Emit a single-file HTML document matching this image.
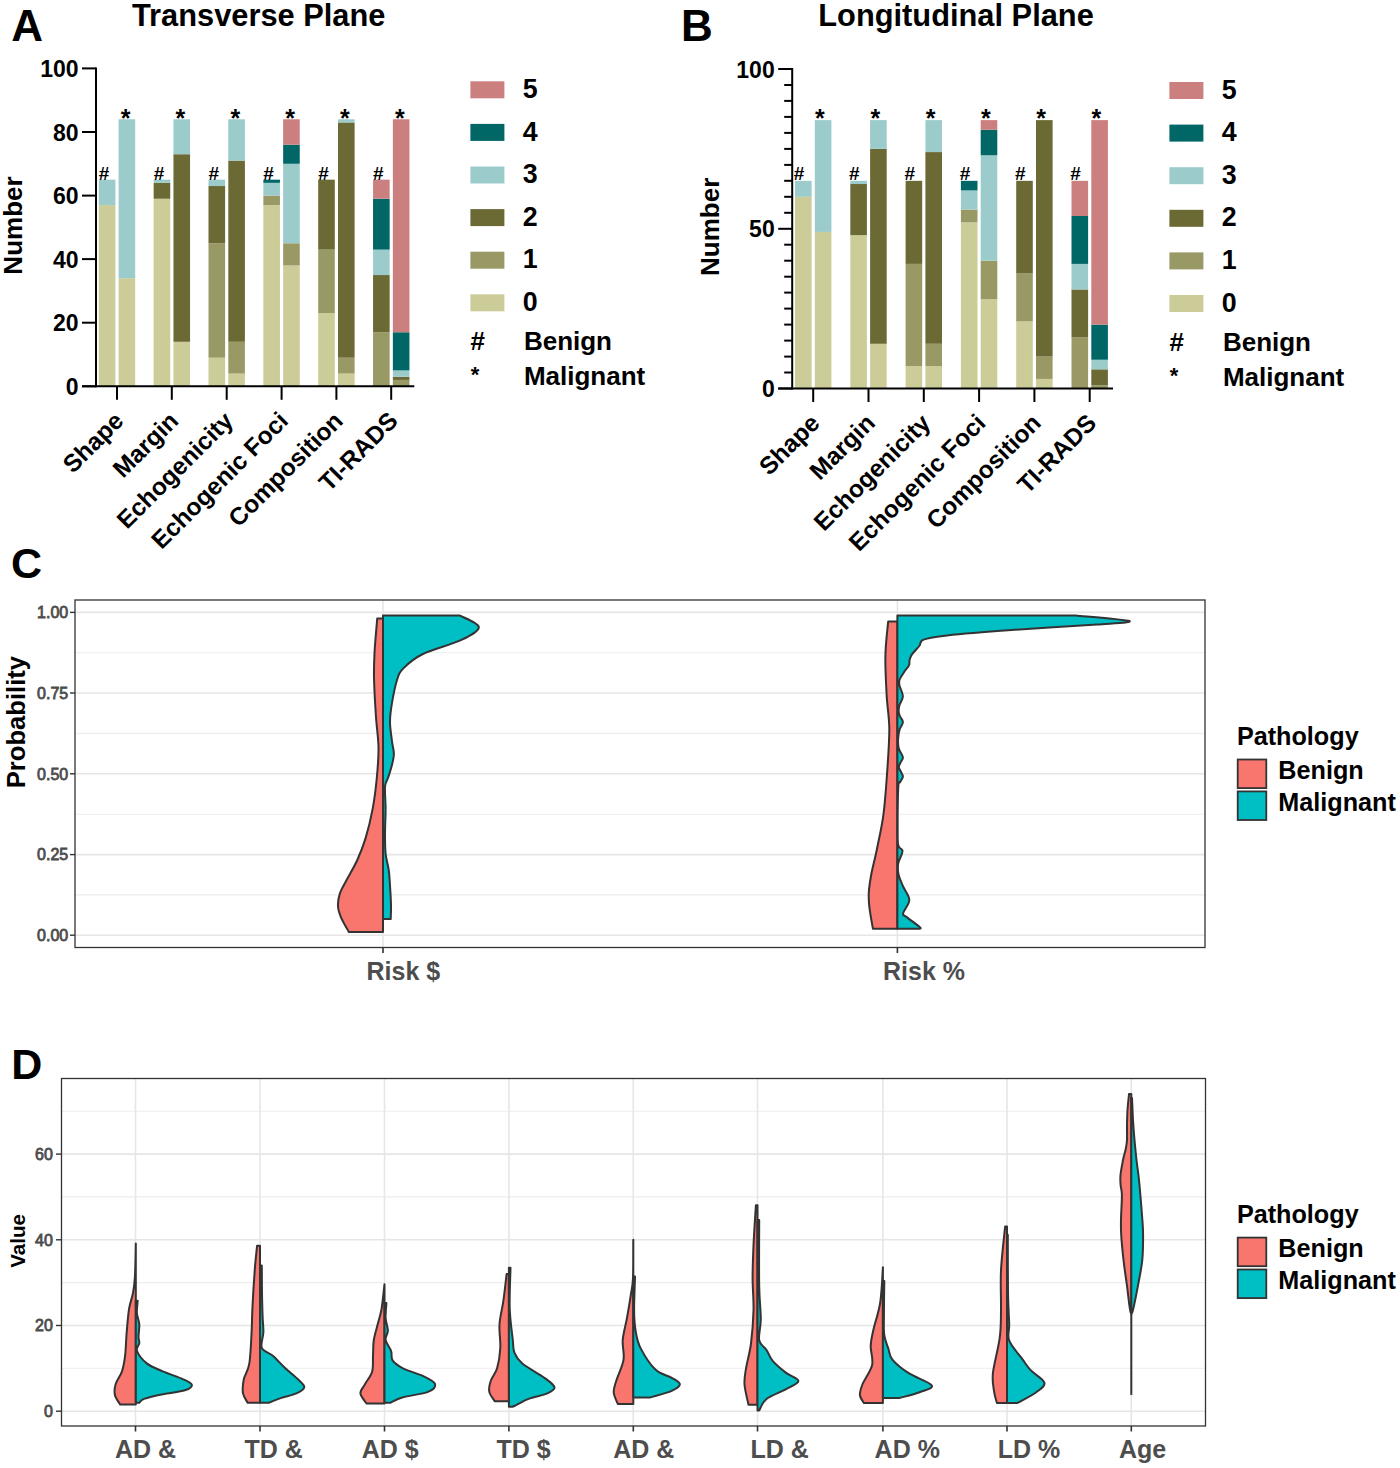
<!DOCTYPE html>
<html><head><meta charset="utf-8"><style>
html,body{margin:0;padding:0;background:#fff;}
svg{display:block;font-family:"Liberation Sans", sans-serif;}
</style></head><body>
<svg width="1400" height="1468" viewBox="0 0 1400 1468">
<rect width="1400" height="1468" fill="#fff"/>
<text x="11.2" y="40.7" font-size="44" text-anchor="start" fill="#000" font-weight="bold" >A</text>
<text x="132.0" y="25.5" font-size="30.8" text-anchor="start" fill="#000" font-weight="bold" >Transverse Plane</text>
<text x="0" y="0" font-size="26" font-weight="bold" text-anchor="middle" transform="translate(22.3,225.5) rotate(-90)">Number</text>
<rect x="98.80" y="205.10" width="16.60" height="181.20" fill="#cccc99" />
<rect x="98.80" y="179.67" width="16.60" height="25.43" fill="#9ccbcb" />
<rect x="118.60" y="278.21" width="16.60" height="108.09" fill="#cccc99" />
<rect x="118.60" y="119.26" width="16.60" height="158.95" fill="#9ccbcb" />
<text x="98.8" y="180.0" font-size="19" text-anchor="start" fill="#000" font-weight="bold" >#</text>
<text x="120.7" y="126.7" font-size="25" text-anchor="start" fill="#000" font-weight="bold" >*</text>
<rect x="153.65" y="198.74" width="16.60" height="187.56" fill="#cccc99" />
<rect x="153.65" y="182.84" width="16.60" height="15.90" fill="#6b6a35" />
<rect x="153.65" y="179.67" width="16.60" height="3.18" fill="#9ccbcb" />
<rect x="173.45" y="341.79" width="16.60" height="44.51" fill="#cccc99" />
<rect x="173.45" y="154.23" width="16.60" height="187.56" fill="#6b6a35" />
<rect x="173.45" y="119.26" width="16.60" height="34.97" fill="#9ccbcb" />
<text x="153.7" y="180.0" font-size="19" text-anchor="start" fill="#000" font-weight="bold" >#</text>
<text x="175.6" y="126.7" font-size="25" text-anchor="start" fill="#000" font-weight="bold" >*</text>
<rect x="208.50" y="357.69" width="16.60" height="28.61" fill="#cccc99" />
<rect x="208.50" y="243.25" width="16.60" height="114.44" fill="#999966" />
<rect x="208.50" y="186.02" width="16.60" height="57.22" fill="#6b6a35" />
<rect x="208.50" y="179.67" width="16.60" height="6.36" fill="#9ccbcb" />
<rect x="228.30" y="373.58" width="16.60" height="12.72" fill="#cccc99" />
<rect x="228.30" y="341.79" width="16.60" height="31.79" fill="#999966" />
<rect x="228.30" y="160.59" width="16.60" height="181.20" fill="#6b6a35" />
<rect x="228.30" y="119.26" width="16.60" height="41.33" fill="#9ccbcb" />
<text x="208.5" y="180.0" font-size="19" text-anchor="start" fill="#000" font-weight="bold" >#</text>
<text x="230.4" y="126.7" font-size="25" text-anchor="start" fill="#000" font-weight="bold" >*</text>
<rect x="263.35" y="205.10" width="16.60" height="181.20" fill="#cccc99" />
<rect x="263.35" y="195.56" width="16.60" height="9.54" fill="#999966" />
<rect x="263.35" y="182.84" width="16.60" height="12.72" fill="#9ccbcb" />
<rect x="263.35" y="179.67" width="16.60" height="3.18" fill="#006666" />
<rect x="283.15" y="265.50" width="16.60" height="120.80" fill="#cccc99" />
<rect x="283.15" y="243.25" width="16.60" height="22.25" fill="#999966" />
<rect x="283.15" y="163.77" width="16.60" height="79.48" fill="#9ccbcb" />
<rect x="283.15" y="144.70" width="16.60" height="19.07" fill="#006666" />
<rect x="283.15" y="119.26" width="16.60" height="25.43" fill="#cc7f7f" />
<text x="263.3" y="180.0" font-size="19" text-anchor="start" fill="#000" font-weight="bold" >#</text>
<text x="285.3" y="126.7" font-size="25" text-anchor="start" fill="#000" font-weight="bold" >*</text>
<rect x="318.20" y="313.18" width="16.60" height="73.12" fill="#cccc99" />
<rect x="318.20" y="249.60" width="16.60" height="63.58" fill="#999966" />
<rect x="318.20" y="179.67" width="16.60" height="69.94" fill="#6b6a35" />
<rect x="338.00" y="373.58" width="16.60" height="12.72" fill="#cccc99" />
<rect x="338.00" y="357.69" width="16.60" height="15.89" fill="#999966" />
<rect x="338.00" y="122.44" width="16.60" height="235.25" fill="#6b6a35" />
<rect x="338.00" y="119.26" width="16.60" height="3.18" fill="#9ccbcb" />
<text x="318.2" y="180.0" font-size="19" text-anchor="start" fill="#000" font-weight="bold" >#</text>
<text x="340.1" y="126.7" font-size="25" text-anchor="start" fill="#000" font-weight="bold" >*</text>
<rect x="373.05" y="332.26" width="16.60" height="54.04" fill="#999966" />
<rect x="373.05" y="275.04" width="16.60" height="57.22" fill="#6b6a35" />
<rect x="373.05" y="249.60" width="16.60" height="25.43" fill="#9ccbcb" />
<rect x="373.05" y="198.74" width="16.60" height="50.86" fill="#006666" />
<rect x="373.05" y="179.67" width="16.60" height="19.07" fill="#cc7f7f" />
<rect x="392.85" y="379.94" width="16.60" height="6.36" fill="#999966" />
<rect x="392.85" y="376.76" width="16.60" height="3.18" fill="#6b6a35" />
<rect x="392.85" y="370.41" width="16.60" height="6.36" fill="#9ccbcb" />
<rect x="392.85" y="332.26" width="16.60" height="38.15" fill="#006666" />
<rect x="392.85" y="119.26" width="16.60" height="212.99" fill="#cc7f7f" />
<text x="373.0" y="180.0" font-size="19" text-anchor="start" fill="#000" font-weight="bold" >#</text>
<text x="395.0" y="126.7" font-size="25" text-anchor="start" fill="#000" font-weight="bold" >*</text>
<line x1="96.0" y1="67.4" x2="96.0" y2="387.3" stroke="#000" stroke-width="2"/>
<line x1="82.0" y1="386.3" x2="414.3" y2="386.3" stroke="#000" stroke-width="2"/>
<line x1="82.0" y1="386.3" x2="96.0" y2="386.3" stroke="#000" stroke-width="2"/>
<text x="78.5" y="394.8" font-size="23" text-anchor="end" fill="#000" font-weight="bold" >0</text>
<line x1="82.0" y1="322.7" x2="96.0" y2="322.7" stroke="#000" stroke-width="2"/>
<text x="78.5" y="331.2" font-size="23" text-anchor="end" fill="#000" font-weight="bold" >20</text>
<line x1="82.0" y1="259.1" x2="96.0" y2="259.1" stroke="#000" stroke-width="2"/>
<text x="78.5" y="267.6" font-size="23" text-anchor="end" fill="#000" font-weight="bold" >40</text>
<line x1="82.0" y1="195.6" x2="96.0" y2="195.6" stroke="#000" stroke-width="2"/>
<text x="78.5" y="204.1" font-size="23" text-anchor="end" fill="#000" font-weight="bold" >60</text>
<line x1="82.0" y1="132.0" x2="96.0" y2="132.0" stroke="#000" stroke-width="2"/>
<text x="78.5" y="140.5" font-size="23" text-anchor="end" fill="#000" font-weight="bold" >80</text>
<line x1="82.0" y1="68.4" x2="96.0" y2="68.4" stroke="#000" stroke-width="2"/>
<text x="78.5" y="76.9" font-size="23" text-anchor="end" fill="#000" font-weight="bold" >100</text>
<line x1="117.0" y1="386.3" x2="117.0" y2="399.8" stroke="#000" stroke-width="2"/>
<line x1="171.8" y1="386.3" x2="171.8" y2="399.8" stroke="#000" stroke-width="2"/>
<line x1="226.7" y1="386.3" x2="226.7" y2="399.8" stroke="#000" stroke-width="2"/>
<line x1="281.6" y1="386.3" x2="281.6" y2="399.8" stroke="#000" stroke-width="2"/>
<line x1="336.4" y1="386.3" x2="336.4" y2="399.8" stroke="#000" stroke-width="2"/>
<line x1="391.2" y1="386.3" x2="391.2" y2="399.8" stroke="#000" stroke-width="2"/>
<text x="0" y="0" font-size="24.5" font-weight="bold" text-anchor="end" transform="translate(125.0,422.3) rotate(-45)">Shape</text>
<text x="0" y="0" font-size="24.5" font-weight="bold" text-anchor="end" transform="translate(179.8,422.3) rotate(-45)">Margin</text>
<text x="0" y="0" font-size="24.5" font-weight="bold" text-anchor="end" transform="translate(234.7,422.3) rotate(-45)">Echogenicity</text>
<text x="0" y="0" font-size="24.5" font-weight="bold" text-anchor="end" transform="translate(289.6,422.3) rotate(-45)">Echogenic Foci</text>
<text x="0" y="0" font-size="24.5" font-weight="bold" text-anchor="end" transform="translate(344.4,422.3) rotate(-45)">Composition</text>
<text x="0" y="0" font-size="24.5" font-weight="bold" text-anchor="end" transform="translate(399.2,422.3) rotate(-45)">TI-RADS</text>
<rect x="470.40" y="81.30" width="34.00" height="17.00" fill="#cc7f7f" />
<text x="522.7" y="97.9" font-size="26.8" text-anchor="start" fill="#000" font-weight="bold" >5</text>
<rect x="470.40" y="123.90" width="34.00" height="17.00" fill="#006666" />
<text x="522.7" y="140.5" font-size="26.8" text-anchor="start" fill="#000" font-weight="bold" >4</text>
<rect x="470.40" y="166.50" width="34.00" height="17.00" fill="#9ccbcb" />
<text x="522.7" y="183.1" font-size="26.8" text-anchor="start" fill="#000" font-weight="bold" >3</text>
<rect x="470.40" y="209.10" width="34.00" height="17.00" fill="#6b6a35" />
<text x="522.7" y="225.7" font-size="26.8" text-anchor="start" fill="#000" font-weight="bold" >2</text>
<rect x="470.40" y="251.70" width="34.00" height="17.00" fill="#999966" />
<text x="522.7" y="268.3" font-size="26.8" text-anchor="start" fill="#000" font-weight="bold" >1</text>
<rect x="470.40" y="294.30" width="34.00" height="17.00" fill="#cccc99" />
<text x="522.7" y="310.9" font-size="26.8" text-anchor="start" fill="#000" font-weight="bold" >0</text>
<text x="470.4" y="349.9" font-size="26" text-anchor="start" fill="#000" font-weight="bold" >#</text>
<text x="523.9" y="349.9" font-size="26" text-anchor="start" fill="#000" font-weight="bold" >Benign</text>
<text x="470.7" y="382.2" font-size="22" text-anchor="start" fill="#000" font-weight="bold" >*</text>
<text x="523.9" y="385.0" font-size="26" text-anchor="start" fill="#000" font-weight="bold" >Malignant</text>
<text x="681.1" y="40.7" font-size="44" text-anchor="start" fill="#000" font-weight="bold" >B</text>
<text x="818.3" y="25.5" font-size="30.8" text-anchor="start" fill="#000" font-weight="bold" >Longitudinal Plane</text>
<text x="0" y="0" font-size="26" font-weight="bold" text-anchor="middle" transform="translate(718.6,226.8) rotate(-90)">Number</text>
<rect x="795.00" y="196.80" width="16.60" height="191.70" fill="#cccc99" />
<rect x="795.00" y="180.83" width="16.60" height="15.97" fill="#9ccbcb" />
<rect x="814.80" y="231.95" width="16.60" height="156.55" fill="#cccc99" />
<rect x="814.80" y="120.12" width="16.60" height="111.83" fill="#9ccbcb" />
<text x="793.8" y="179.6" font-size="19" text-anchor="start" fill="#000" font-weight="bold" >#</text>
<text x="815.1" y="126.7" font-size="25" text-anchor="start" fill="#000" font-weight="bold" >*</text>
<rect x="850.30" y="235.14" width="16.60" height="153.36" fill="#cccc99" />
<rect x="850.30" y="184.02" width="16.60" height="51.12" fill="#6b6a35" />
<rect x="850.30" y="180.83" width="16.60" height="3.19" fill="#9ccbcb" />
<rect x="870.10" y="343.77" width="16.60" height="44.73" fill="#cccc99" />
<rect x="870.10" y="148.88" width="16.60" height="194.89" fill="#6b6a35" />
<rect x="870.10" y="120.12" width="16.60" height="28.75" fill="#9ccbcb" />
<text x="849.1" y="179.6" font-size="19" text-anchor="start" fill="#000" font-weight="bold" >#</text>
<text x="870.4" y="126.7" font-size="25" text-anchor="start" fill="#000" font-weight="bold" >*</text>
<rect x="905.60" y="366.13" width="16.60" height="22.37" fill="#cccc99" />
<rect x="905.60" y="263.89" width="16.60" height="102.24" fill="#999966" />
<rect x="905.60" y="180.83" width="16.60" height="83.07" fill="#6b6a35" />
<rect x="925.40" y="366.13" width="16.60" height="22.37" fill="#cccc99" />
<rect x="925.40" y="343.77" width="16.60" height="22.37" fill="#999966" />
<rect x="925.40" y="152.07" width="16.60" height="191.70" fill="#6b6a35" />
<rect x="925.40" y="120.12" width="16.60" height="31.95" fill="#9ccbcb" />
<text x="904.4" y="179.6" font-size="19" text-anchor="start" fill="#000" font-weight="bold" >#</text>
<text x="925.7" y="126.7" font-size="25" text-anchor="start" fill="#000" font-weight="bold" >*</text>
<rect x="960.90" y="222.36" width="16.60" height="166.14" fill="#cccc99" />
<rect x="960.90" y="209.58" width="16.60" height="12.78" fill="#999966" />
<rect x="960.90" y="190.41" width="16.60" height="19.17" fill="#9ccbcb" />
<rect x="960.90" y="180.83" width="16.60" height="9.58" fill="#006666" />
<rect x="980.70" y="299.04" width="16.60" height="89.46" fill="#cccc99" />
<rect x="980.70" y="260.70" width="16.60" height="38.34" fill="#999966" />
<rect x="980.70" y="155.27" width="16.60" height="105.43" fill="#9ccbcb" />
<rect x="980.70" y="129.71" width="16.60" height="25.56" fill="#006666" />
<rect x="980.70" y="120.12" width="16.60" height="9.59" fill="#cc7f7f" />
<text x="959.7" y="179.6" font-size="19" text-anchor="start" fill="#000" font-weight="bold" >#</text>
<text x="981.0" y="126.7" font-size="25" text-anchor="start" fill="#000" font-weight="bold" >*</text>
<rect x="1016.20" y="321.40" width="16.60" height="67.10" fill="#cccc99" />
<rect x="1016.20" y="273.48" width="16.60" height="47.92" fill="#999966" />
<rect x="1016.20" y="180.83" width="16.60" height="92.66" fill="#6b6a35" />
<rect x="1036.00" y="378.92" width="16.60" height="9.58" fill="#cccc99" />
<rect x="1036.00" y="356.55" width="16.60" height="22.37" fill="#999966" />
<rect x="1036.00" y="120.12" width="16.60" height="236.43" fill="#6b6a35" />
<text x="1015.0" y="179.6" font-size="19" text-anchor="start" fill="#000" font-weight="bold" >#</text>
<text x="1036.3" y="126.7" font-size="25" text-anchor="start" fill="#000" font-weight="bold" >*</text>
<rect x="1071.50" y="337.38" width="16.60" height="51.12" fill="#999966" />
<rect x="1071.50" y="289.45" width="16.60" height="47.93" fill="#6b6a35" />
<rect x="1071.50" y="263.89" width="16.60" height="25.56" fill="#9ccbcb" />
<rect x="1071.50" y="215.97" width="16.60" height="47.92" fill="#006666" />
<rect x="1071.50" y="180.83" width="16.60" height="35.14" fill="#cc7f7f" />
<rect x="1091.30" y="385.31" width="16.60" height="3.19" fill="#999966" />
<rect x="1091.30" y="369.33" width="16.60" height="15.98" fill="#6b6a35" />
<rect x="1091.30" y="359.75" width="16.60" height="9.58" fill="#9ccbcb" />
<rect x="1091.30" y="324.60" width="16.60" height="35.14" fill="#006666" />
<rect x="1091.30" y="120.12" width="16.60" height="204.48" fill="#cc7f7f" />
<text x="1070.3" y="179.6" font-size="19" text-anchor="start" fill="#000" font-weight="bold" >#</text>
<text x="1091.6" y="126.7" font-size="25" text-anchor="start" fill="#000" font-weight="bold" >*</text>
<line x1="792.2" y1="68.0" x2="792.2" y2="389.5" stroke="#000" stroke-width="2"/>
<line x1="778.2" y1="388.5" x2="1113.0" y2="388.5" stroke="#000" stroke-width="2"/>
<line x1="778.2" y1="388.5" x2="792.2" y2="388.5" stroke="#000" stroke-width="2"/>
<text x="774.7" y="397.0" font-size="23" text-anchor="end" fill="#000" font-weight="bold" >0</text>
<line x1="778.2" y1="228.8" x2="792.2" y2="228.8" stroke="#000" stroke-width="2"/>
<text x="774.7" y="237.2" font-size="23" text-anchor="end" fill="#000" font-weight="bold" >50</text>
<line x1="778.2" y1="69.0" x2="792.2" y2="69.0" stroke="#000" stroke-width="2"/>
<text x="774.7" y="77.5" font-size="23" text-anchor="end" fill="#000" font-weight="bold" >100</text>
<line x1="784.2" y1="372.5" x2="792.2" y2="372.5" stroke="#000" stroke-width="2"/>
<line x1="784.2" y1="356.6" x2="792.2" y2="356.6" stroke="#000" stroke-width="2"/>
<line x1="784.2" y1="340.6" x2="792.2" y2="340.6" stroke="#000" stroke-width="2"/>
<line x1="784.2" y1="324.6" x2="792.2" y2="324.6" stroke="#000" stroke-width="2"/>
<line x1="784.2" y1="308.6" x2="792.2" y2="308.6" stroke="#000" stroke-width="2"/>
<line x1="784.2" y1="292.6" x2="792.2" y2="292.6" stroke="#000" stroke-width="2"/>
<line x1="784.2" y1="276.7" x2="792.2" y2="276.7" stroke="#000" stroke-width="2"/>
<line x1="784.2" y1="260.7" x2="792.2" y2="260.7" stroke="#000" stroke-width="2"/>
<line x1="784.2" y1="244.7" x2="792.2" y2="244.7" stroke="#000" stroke-width="2"/>
<line x1="784.2" y1="212.8" x2="792.2" y2="212.8" stroke="#000" stroke-width="2"/>
<line x1="784.2" y1="196.8" x2="792.2" y2="196.8" stroke="#000" stroke-width="2"/>
<line x1="784.2" y1="180.8" x2="792.2" y2="180.8" stroke="#000" stroke-width="2"/>
<line x1="784.2" y1="164.9" x2="792.2" y2="164.9" stroke="#000" stroke-width="2"/>
<line x1="784.2" y1="148.9" x2="792.2" y2="148.9" stroke="#000" stroke-width="2"/>
<line x1="784.2" y1="132.9" x2="792.2" y2="132.9" stroke="#000" stroke-width="2"/>
<line x1="784.2" y1="116.9" x2="792.2" y2="116.9" stroke="#000" stroke-width="2"/>
<line x1="784.2" y1="100.9" x2="792.2" y2="100.9" stroke="#000" stroke-width="2"/>
<line x1="784.2" y1="85.0" x2="792.2" y2="85.0" stroke="#000" stroke-width="2"/>
<line x1="813.2" y1="388.5" x2="813.2" y2="402.0" stroke="#000" stroke-width="2"/>
<line x1="868.5" y1="388.5" x2="868.5" y2="402.0" stroke="#000" stroke-width="2"/>
<line x1="923.8" y1="388.5" x2="923.8" y2="402.0" stroke="#000" stroke-width="2"/>
<line x1="979.1" y1="388.5" x2="979.1" y2="402.0" stroke="#000" stroke-width="2"/>
<line x1="1034.4" y1="388.5" x2="1034.4" y2="402.0" stroke="#000" stroke-width="2"/>
<line x1="1089.7" y1="388.5" x2="1089.7" y2="402.0" stroke="#000" stroke-width="2"/>
<text x="0" y="0" font-size="24.5" font-weight="bold" text-anchor="end" transform="translate(821.2,424.5) rotate(-45)">Shape</text>
<text x="0" y="0" font-size="24.5" font-weight="bold" text-anchor="end" transform="translate(876.5,424.5) rotate(-45)">Margin</text>
<text x="0" y="0" font-size="24.5" font-weight="bold" text-anchor="end" transform="translate(931.8,424.5) rotate(-45)">Echogenicity</text>
<text x="0" y="0" font-size="24.5" font-weight="bold" text-anchor="end" transform="translate(987.1,424.5) rotate(-45)">Echogenic Foci</text>
<text x="0" y="0" font-size="24.5" font-weight="bold" text-anchor="end" transform="translate(1042.4,424.5) rotate(-45)">Composition</text>
<text x="0" y="0" font-size="24.5" font-weight="bold" text-anchor="end" transform="translate(1097.7,424.5) rotate(-45)">TI-RADS</text>
<rect x="1169.40" y="82.00" width="34.00" height="17.00" fill="#cc7f7f" />
<text x="1221.7" y="98.6" font-size="26.8" text-anchor="start" fill="#000" font-weight="bold" >5</text>
<rect x="1169.40" y="124.60" width="34.00" height="17.00" fill="#006666" />
<text x="1221.7" y="141.2" font-size="26.8" text-anchor="start" fill="#000" font-weight="bold" >4</text>
<rect x="1169.40" y="167.20" width="34.00" height="17.00" fill="#9ccbcb" />
<text x="1221.7" y="183.8" font-size="26.8" text-anchor="start" fill="#000" font-weight="bold" >3</text>
<rect x="1169.40" y="209.80" width="34.00" height="17.00" fill="#6b6a35" />
<text x="1221.7" y="226.4" font-size="26.8" text-anchor="start" fill="#000" font-weight="bold" >2</text>
<rect x="1169.40" y="252.40" width="34.00" height="17.00" fill="#999966" />
<text x="1221.7" y="269.0" font-size="26.8" text-anchor="start" fill="#000" font-weight="bold" >1</text>
<rect x="1169.40" y="295.00" width="34.00" height="17.00" fill="#cccc99" />
<text x="1221.7" y="311.6" font-size="26.8" text-anchor="start" fill="#000" font-weight="bold" >0</text>
<text x="1169.4" y="350.6" font-size="26" text-anchor="start" fill="#000" font-weight="bold" >#</text>
<text x="1222.9" y="350.6" font-size="26" text-anchor="start" fill="#000" font-weight="bold" >Benign</text>
<text x="1169.7" y="382.9" font-size="22" text-anchor="start" fill="#000" font-weight="bold" >*</text>
<text x="1222.9" y="385.7" font-size="26" text-anchor="start" fill="#000" font-weight="bold" >Malignant</text>
<rect x="75" y="600" width="1130" height="347.5" fill="#fff"/>
<line x1="75.0" y1="652.7" x2="1205.0" y2="652.7" stroke="#ededed" stroke-width="1.1"/>
<line x1="75.0" y1="733.4" x2="1205.0" y2="733.4" stroke="#ededed" stroke-width="1.1"/>
<line x1="75.0" y1="814.2" x2="1205.0" y2="814.2" stroke="#ededed" stroke-width="1.1"/>
<line x1="75.0" y1="894.9" x2="1205.0" y2="894.9" stroke="#ededed" stroke-width="1.1"/>
<line x1="75.0" y1="612.4" x2="1205.0" y2="612.4" stroke="#e6e6e6" stroke-width="1.6"/>
<line x1="75.0" y1="693.0" x2="1205.0" y2="693.0" stroke="#e6e6e6" stroke-width="1.6"/>
<line x1="75.0" y1="773.8" x2="1205.0" y2="773.8" stroke="#e6e6e6" stroke-width="1.6"/>
<line x1="75.0" y1="854.6" x2="1205.0" y2="854.6" stroke="#e6e6e6" stroke-width="1.6"/>
<line x1="75.0" y1="935.2" x2="1205.0" y2="935.2" stroke="#e6e6e6" stroke-width="1.6"/>
<line x1="383.0" y1="600.0" x2="383.0" y2="947.5" stroke="#e6e6e6" stroke-width="1.6"/>
<line x1="897.4" y1="600.0" x2="897.4" y2="947.5" stroke="#e6e6e6" stroke-width="1.6"/>
<text x="11.0" y="578.0" font-size="43" text-anchor="start" fill="#000" font-weight="bold" >C</text>
<text x="0" y="0" font-size="25.6" font-weight="bold" text-anchor="middle" transform="translate(24.5,722.1) rotate(-90)">Probability</text>
<text x="68.2" y="618.2" font-size="16" text-anchor="end" fill="#4d4d4d" font-weight="normal"  stroke="#4d4d4d" stroke-width="0.8">1.00</text>
<line x1="70.0" y1="612.4" x2="75.0" y2="612.4" stroke="#333" stroke-width="1.4"/>
<text x="68.2" y="698.8" font-size="16" text-anchor="end" fill="#4d4d4d" font-weight="normal"  stroke="#4d4d4d" stroke-width="0.8">0.75</text>
<line x1="70.0" y1="693.0" x2="75.0" y2="693.0" stroke="#333" stroke-width="1.4"/>
<text x="68.2" y="779.6" font-size="16" text-anchor="end" fill="#4d4d4d" font-weight="normal"  stroke="#4d4d4d" stroke-width="0.8">0.50</text>
<line x1="70.0" y1="773.8" x2="75.0" y2="773.8" stroke="#333" stroke-width="1.4"/>
<text x="68.2" y="860.4" font-size="16" text-anchor="end" fill="#4d4d4d" font-weight="normal"  stroke="#4d4d4d" stroke-width="0.8">0.25</text>
<line x1="70.0" y1="854.6" x2="75.0" y2="854.6" stroke="#333" stroke-width="1.4"/>
<text x="68.2" y="941.0" font-size="16" text-anchor="end" fill="#4d4d4d" font-weight="normal"  stroke="#4d4d4d" stroke-width="0.8">0.00</text>
<line x1="70.0" y1="935.2" x2="75.0" y2="935.2" stroke="#333" stroke-width="1.4"/>
<line x1="383.0" y1="947.5" x2="383.0" y2="953.0" stroke="#333" stroke-width="1.6"/>
<line x1="897.4" y1="947.5" x2="897.4" y2="953.0" stroke="#333" stroke-width="1.6"/>
<text x="366.5" y="979.7" font-size="25" text-anchor="start" fill="#4d4d4d" font-weight="bold" >Risk $</text>
<text x="883.0" y="979.7" font-size="25" text-anchor="start" fill="#4d4d4d" font-weight="bold" >Risk %</text>
<path d="M383.0,618.6 L377.2,618.6 C376.8,624.1 375.1,641.7 374.6,651.4 C374.1,661.1 373.8,666.3 374.0,677.0 C374.2,687.7 375.1,703.9 375.9,715.7 C376.6,727.5 378.4,737.2 378.5,747.9 C378.6,758.6 377.6,769.9 376.6,780.0 C375.6,790.1 374.5,798.9 372.7,808.6 C370.9,818.3 368.2,829.5 365.6,838.1 C363.0,846.7 360.4,853.1 357.3,860.0 C354.2,866.9 349.9,873.7 347.0,879.3 C344.1,884.9 341.4,888.9 339.9,893.4 C338.4,897.9 337.8,902.2 338.0,906.3 C338.2,910.4 339.4,913.6 341.2,917.9 C343.0,922.2 347.6,929.6 348.9,932.0 L383.0,932.0 Z" fill="#F8766D" stroke="#333333" stroke-width="2" stroke-linejoin="round"/>
<path d="M383.0,615.4 L459.5,615.4 C462.7,617.3 478.5,622.9 478.8,627.0 C479.1,631.1 470.7,635.4 461.4,639.9 C452.1,644.4 432.5,649.3 422.9,654.0 C413.3,658.7 407.9,663.8 403.6,668.1 C399.3,672.4 399.0,673.9 397.1,679.7 C395.2,685.5 393.2,695.8 392.0,702.9 C390.8,710.0 390.0,715.7 390.0,722.1 C390.0,728.5 391.4,736.0 392.0,741.4 C392.6,746.8 394.0,750.0 393.9,754.3 C393.8,758.6 392.4,763.1 391.4,767.1 C390.4,771.1 389.1,774.7 388.0,778.0 C386.9,781.3 385.4,781.6 385.0,786.7 C384.6,791.8 385.6,800.7 385.6,808.6 C385.6,816.5 385.0,826.8 385.0,834.3 C385.0,841.8 385.0,847.6 385.6,853.6 C386.2,859.6 388.1,864.9 388.8,870.3 C389.5,875.6 389.6,879.9 390.0,885.7 C390.4,891.5 390.9,899.4 391.0,905.0 C391.1,910.6 390.8,916.8 390.7,919.1 L383.0,919.1 Z" fill="#00BFC4" stroke="#333333" stroke-width="2" stroke-linejoin="round"/>
<path d="M897.4,621.4 L888.2,621.4 C887.7,627.1 885.6,643.2 885.4,655.7 C885.1,668.2 886.1,684.2 886.7,696.4 C887.4,708.5 889.2,716.1 889.3,728.6 C889.4,741.1 888.2,757.1 887.2,771.4 C886.2,785.6 885.2,801.0 883.5,814.1 C881.8,827.2 878.8,839.7 876.8,849.7 C874.8,859.7 872.6,867.1 871.3,874.2 C870.0,881.4 869.1,887.1 868.8,892.6 C868.5,898.1 868.7,901.3 869.4,907.3 C870.1,913.3 872.3,925.1 872.9,928.7 L897.4,928.7 Z" fill="#F8766D" stroke="#333333" stroke-width="2" stroke-linejoin="round"/>
<path d="M897.4,615.4 L1075.7,615.4 C1084.6,616.3 1125.8,619.5 1129.3,621.0 C1132.8,622.5 1116.7,623.1 1097.0,624.6 C1077.3,626.1 1036.4,628.2 1011.4,630.0 C986.4,631.8 961.7,633.8 947.1,635.4 C932.5,637.0 928.2,637.8 923.6,639.6 C919.0,641.4 921.3,643.5 919.3,646.0 C917.3,648.5 913.4,652.3 911.8,654.6 C910.2,656.9 910.1,658.2 909.6,660.0 C909.1,661.8 909.9,663.4 909.0,665.4 C908.1,667.4 905.9,669.4 904.3,671.8 C902.7,674.2 900.3,677.6 899.5,680.0 C898.7,682.4 899.0,683.3 899.6,686.0 C900.2,688.7 902.9,693.1 902.9,696.3 C902.9,699.5 900.2,702.5 899.5,705.0 C898.8,707.5 898.6,709.2 898.6,711.0 C898.6,712.8 899.1,714.2 899.8,716.0 C900.5,717.8 902.9,719.8 902.9,722.0 C902.9,724.2 900.6,726.5 899.8,729.0 C899.0,731.5 898.5,734.2 898.3,737.0 C898.0,739.8 898.0,743.7 898.3,746.0 C898.5,748.3 899.0,749.1 899.8,751.0 C900.6,752.9 902.8,755.3 902.9,757.3 C903.0,759.3 901.0,761.4 900.3,763.0 C899.6,764.6 898.8,765.7 898.8,767.0 C898.8,768.3 899.8,769.4 900.5,771.0 C901.2,772.6 902.9,774.6 902.9,776.4 C902.9,778.2 901.1,780.0 900.3,782.0 C899.5,784.0 898.7,778.6 898.2,788.4 C897.8,798.2 896.9,830.6 897.6,841.0 C898.3,851.4 902.4,847.2 902.5,850.9 C902.6,854.6 898.9,859.3 898.2,863.2 C897.5,867.1 897.7,870.3 898.5,874.2 C899.3,878.1 901.3,882.2 903.1,886.5 C904.9,890.8 909.3,895.4 909.3,899.9 C909.3,904.4 903.5,910.5 903.1,913.4 C902.7,916.3 904.0,914.9 906.8,917.1 C909.6,919.4 917.6,925.0 919.7,926.9 C921.9,928.8 919.7,928.4 919.7,928.7 L897.4,928.7 Z" fill="#00BFC4" stroke="#333333" stroke-width="2" stroke-linejoin="round"/>
<rect x="75" y="600" width="1130" height="347.5" fill="none" stroke="#333" stroke-width="1.3"/>
<text x="1236.9" y="744.8" font-size="25.2" text-anchor="start" fill="#000" font-weight="bold" >Pathology</text>
<rect x="1237.7" y="759.5" width="28.6" height="28.6" fill="#F8766D" stroke="#333" stroke-width="1.8"/>
<rect x="1237.7" y="791.4" width="28.6" height="28.6" fill="#00BFC4" stroke="#333" stroke-width="1.8"/>
<text x="1278.3" y="779.0" font-size="25.2" text-anchor="start" fill="#000" font-weight="bold" >Benign</text>
<text x="1278.3" y="811.0" font-size="25.2" text-anchor="start" fill="#000" font-weight="bold" >Malignant</text>
<rect x="61.5" y="1078.5" width="1144.0" height="347.5" fill="#fff"/>
<line x1="61.5" y1="1368.3" x2="1205.5" y2="1368.3" stroke="#ededed" stroke-width="1.1"/>
<line x1="61.5" y1="1282.6" x2="1205.5" y2="1282.6" stroke="#ededed" stroke-width="1.1"/>
<line x1="61.5" y1="1196.9" x2="1205.5" y2="1196.9" stroke="#ededed" stroke-width="1.1"/>
<line x1="61.5" y1="1111.2" x2="1205.5" y2="1111.2" stroke="#ededed" stroke-width="1.1"/>
<line x1="61.5" y1="1411.2" x2="1205.5" y2="1411.2" stroke="#e6e6e6" stroke-width="1.6"/>
<line x1="61.5" y1="1325.5" x2="1205.5" y2="1325.5" stroke="#e6e6e6" stroke-width="1.6"/>
<line x1="61.5" y1="1239.8" x2="1205.5" y2="1239.8" stroke="#e6e6e6" stroke-width="1.6"/>
<line x1="61.5" y1="1154.1" x2="1205.5" y2="1154.1" stroke="#e6e6e6" stroke-width="1.6"/>
<line x1="135.5" y1="1078.5" x2="135.5" y2="1426.0" stroke="#e6e6e6" stroke-width="1.6"/>
<line x1="260.0" y1="1078.5" x2="260.0" y2="1426.0" stroke="#e6e6e6" stroke-width="1.6"/>
<line x1="384.5" y1="1078.5" x2="384.5" y2="1426.0" stroke="#e6e6e6" stroke-width="1.6"/>
<line x1="508.9" y1="1078.5" x2="508.9" y2="1426.0" stroke="#e6e6e6" stroke-width="1.6"/>
<line x1="633.3" y1="1078.5" x2="633.3" y2="1426.0" stroke="#e6e6e6" stroke-width="1.6"/>
<line x1="757.5" y1="1078.5" x2="757.5" y2="1426.0" stroke="#e6e6e6" stroke-width="1.6"/>
<line x1="882.9" y1="1078.5" x2="882.9" y2="1426.0" stroke="#e6e6e6" stroke-width="1.6"/>
<line x1="1007.0" y1="1078.5" x2="1007.0" y2="1426.0" stroke="#e6e6e6" stroke-width="1.6"/>
<line x1="1131.3" y1="1078.5" x2="1131.3" y2="1426.0" stroke="#e6e6e6" stroke-width="1.6"/>
<text x="11.3" y="1078.9" font-size="43" text-anchor="start" fill="#000" font-weight="bold" >D</text>
<text x="0" y="0" font-size="20.6" font-weight="bold" text-anchor="middle" transform="translate(24.6,1240.9) rotate(-90)">Value</text>
<text x="52.8" y="1417.0" font-size="16" text-anchor="end" fill="#4d4d4d" font-weight="normal"  stroke="#4d4d4d" stroke-width="0.8">0</text>
<line x1="56.0" y1="1411.2" x2="61.5" y2="1411.2" stroke="#333" stroke-width="1.4"/>
<text x="52.8" y="1331.3" font-size="16" text-anchor="end" fill="#4d4d4d" font-weight="normal"  stroke="#4d4d4d" stroke-width="0.8">20</text>
<line x1="56.0" y1="1325.5" x2="61.5" y2="1325.5" stroke="#333" stroke-width="1.4"/>
<text x="52.8" y="1245.6" font-size="16" text-anchor="end" fill="#4d4d4d" font-weight="normal"  stroke="#4d4d4d" stroke-width="0.8">40</text>
<line x1="56.0" y1="1239.8" x2="61.5" y2="1239.8" stroke="#333" stroke-width="1.4"/>
<text x="52.8" y="1159.9" font-size="16" text-anchor="end" fill="#4d4d4d" font-weight="normal"  stroke="#4d4d4d" stroke-width="0.8">60</text>
<line x1="56.0" y1="1154.1" x2="61.5" y2="1154.1" stroke="#333" stroke-width="1.4"/>
<line x1="135.5" y1="1426.0" x2="135.5" y2="1431.5" stroke="#333" stroke-width="1.6"/>
<line x1="260.0" y1="1426.0" x2="260.0" y2="1431.5" stroke="#333" stroke-width="1.6"/>
<line x1="384.5" y1="1426.0" x2="384.5" y2="1431.5" stroke="#333" stroke-width="1.6"/>
<line x1="508.9" y1="1426.0" x2="508.9" y2="1431.5" stroke="#333" stroke-width="1.6"/>
<line x1="633.3" y1="1426.0" x2="633.3" y2="1431.5" stroke="#333" stroke-width="1.6"/>
<line x1="757.5" y1="1426.0" x2="757.5" y2="1431.5" stroke="#333" stroke-width="1.6"/>
<line x1="882.9" y1="1426.0" x2="882.9" y2="1431.5" stroke="#333" stroke-width="1.6"/>
<line x1="1007.0" y1="1426.0" x2="1007.0" y2="1431.5" stroke="#333" stroke-width="1.6"/>
<line x1="1131.3" y1="1426.0" x2="1131.3" y2="1431.5" stroke="#333" stroke-width="1.6"/>
<text x="115.0" y="1458.2" font-size="25" text-anchor="start" fill="#4d4d4d" font-weight="bold" >AD &amp;</text>
<text x="244.6" y="1458.2" font-size="25" text-anchor="start" fill="#4d4d4d" font-weight="bold" >TD &amp;</text>
<text x="361.8" y="1458.2" font-size="25" text-anchor="start" fill="#4d4d4d" font-weight="bold" >AD $</text>
<text x="496.4" y="1458.2" font-size="25" text-anchor="start" fill="#4d4d4d" font-weight="bold" >TD $</text>
<text x="613.3" y="1458.2" font-size="25" text-anchor="start" fill="#4d4d4d" font-weight="bold" >AD &amp;</text>
<text x="750.6" y="1458.2" font-size="25" text-anchor="start" fill="#4d4d4d" font-weight="bold" >LD &amp;</text>
<text x="874.6" y="1458.2" font-size="25" text-anchor="start" fill="#4d4d4d" font-weight="bold" >AD %</text>
<text x="997.7" y="1458.2" font-size="25" text-anchor="start" fill="#4d4d4d" font-weight="bold" >LD %</text>
<text x="1119.0" y="1458.2" font-size="25" text-anchor="start" fill="#4d4d4d" font-weight="bold" >Age</text>
<path d="M135.8,1243.4 L135.8,1243.4 C135.7,1249.0 135.4,1268.8 134.9,1277.1 C134.4,1285.3 134.0,1287.7 133.0,1292.9 C132.0,1298.2 130.2,1302.1 129.1,1308.6 C128.0,1315.1 127.4,1324.2 126.7,1332.1 C126.0,1339.9 125.9,1349.2 125.1,1355.7 C124.3,1362.2 123.6,1366.7 122.0,1371.4 C120.4,1376.1 116.9,1380.1 115.7,1384.0 C114.5,1387.9 114.2,1391.6 114.9,1395.0 C115.6,1398.4 119.2,1402.8 120.1,1404.4 L135.8,1404.4 Z" fill="#F8766D" stroke="#333333" stroke-width="2" stroke-linejoin="round"/>
<path d="M135.8,1300.7 L137.7,1300.7 C137.6,1302.8 136.6,1309.4 136.9,1313.3 C137.2,1317.2 139.0,1320.4 139.3,1324.3 C139.6,1328.2 138.5,1333.8 138.5,1336.9 C138.5,1340.0 139.6,1340.8 139.3,1343.1 C139.1,1345.4 135.7,1347.6 137.0,1351.0 C138.3,1354.4 142.8,1360.2 147.1,1363.6 C151.4,1367.0 156.9,1368.8 162.9,1371.4 C168.9,1374.0 178.5,1377.1 183.3,1379.3 C188.1,1381.5 191.6,1383.0 191.9,1384.8 C192.2,1386.6 189.7,1388.7 184.9,1390.3 C180.1,1391.9 169.7,1392.8 162.9,1394.2 C156.1,1395.6 147.9,1397.5 144.0,1398.9 C140.1,1400.3 140.1,1402.2 139.3,1402.8 L135.8,1402.8 Z" fill="#00BFC4" stroke="#333333" stroke-width="2" stroke-linejoin="round"/>
<path d="M260.0,1245.7 L257.1,1245.7 C256.7,1249.6 255.6,1258.8 254.8,1269.3 C254.0,1279.8 252.9,1298.1 252.4,1308.6 C251.9,1319.1 252.1,1322.9 251.6,1332.1 C251.1,1341.3 250.6,1355.7 249.3,1363.6 C248.0,1371.5 244.9,1374.3 243.8,1379.3 C242.8,1384.3 242.3,1389.5 243.0,1393.4 C243.7,1397.3 246.9,1401.2 247.7,1402.8 L260.0,1402.8 Z" fill="#F8766D" stroke="#333333" stroke-width="2" stroke-linejoin="round"/>
<path d="M260.0,1265.4 L261.8,1265.4 C261.8,1270.0 261.9,1284.4 262.0,1292.9 C262.1,1301.4 262.4,1309.9 262.6,1316.4 C262.8,1322.9 263.5,1326.8 263.4,1332.1 C263.3,1337.3 260.2,1344.0 261.8,1347.9 C263.4,1351.8 268.9,1352.3 272.8,1355.7 C276.7,1359.1 281.2,1364.4 285.4,1368.3 C289.6,1372.2 294.9,1376.2 298.0,1379.3 C301.1,1382.4 304.6,1384.8 304.3,1387.1 C304.0,1389.4 300.3,1391.6 296.4,1393.4 C292.5,1395.2 285.3,1396.5 280.7,1398.1 C276.1,1399.7 270.9,1402.0 268.9,1402.8 L260.0,1402.8 Z" fill="#00BFC4" stroke="#333333" stroke-width="2" stroke-linejoin="round"/>
<path d="M384.5,1284.2 L384.5,1284.2 C384.0,1288.3 382.7,1301.9 381.6,1308.6 C380.5,1315.3 379.0,1319.1 377.7,1324.3 C376.4,1329.5 374.6,1334.8 373.8,1340.0 C373.0,1345.2 373.3,1350.5 373.0,1355.7 C372.7,1360.9 373.5,1366.7 372.2,1371.4 C370.9,1376.1 367.1,1380.3 365.1,1384.0 C363.1,1387.7 360.1,1390.1 360.4,1393.4 C360.7,1396.7 365.6,1401.9 366.7,1403.6 L384.5,1403.6 Z" fill="#F8766D" stroke="#333333" stroke-width="2" stroke-linejoin="round"/>
<path d="M384.5,1303.1 L386.4,1303.1 C386.3,1305.6 385.4,1313.4 385.6,1318.0 C385.9,1322.6 387.9,1326.9 387.9,1330.6 C387.9,1334.3 385.1,1336.6 385.6,1340.0 C386.1,1343.4 389.9,1347.6 391.1,1351.0 C392.3,1354.4 390.6,1357.5 392.6,1360.4 C394.6,1363.3 397.8,1365.7 402.9,1368.3 C408.0,1370.9 417.9,1373.5 423.3,1376.1 C428.7,1378.7 434.3,1381.4 435.1,1384.0 C435.9,1386.6 433.4,1389.7 428.0,1391.9 C422.6,1394.1 409.2,1395.5 402.9,1397.3 C396.6,1399.1 392.4,1401.9 390.3,1402.8 L384.5,1402.8 Z" fill="#00BFC4" stroke="#333333" stroke-width="2" stroke-linejoin="round"/>
<path d="M508.9,1274.0 L506.6,1274.0 C506.1,1278.5 504.6,1292.3 503.4,1300.7 C502.2,1309.1 500.0,1316.4 499.5,1324.3 C499.0,1332.2 500.7,1340.6 500.3,1347.9 C499.9,1355.2 498.7,1362.8 497.1,1368.3 C495.5,1373.8 492.1,1376.9 490.8,1380.8 C489.5,1384.7 488.6,1388.5 489.3,1391.9 C490.0,1395.3 493.9,1399.7 494.8,1401.3 L508.9,1401.3 Z" fill="#F8766D" stroke="#333333" stroke-width="2" stroke-linejoin="round"/>
<path d="M508.9,1267.7 L510.5,1267.7 C510.4,1274.5 509.3,1296.5 509.7,1308.6 C510.1,1320.6 512.0,1332.7 512.8,1340.0 C513.6,1347.3 512.8,1348.7 514.4,1352.6 C516.0,1356.5 517.3,1359.4 522.3,1363.6 C527.3,1367.8 538.9,1373.8 544.3,1377.7 C549.7,1381.6 554.0,1384.5 554.5,1387.1 C555.0,1389.7 551.7,1391.4 547.4,1393.4 C543.1,1395.4 534.1,1396.8 528.6,1398.9 C523.1,1401.0 517.4,1404.7 514.4,1406.0 C511.4,1407.3 511.1,1406.7 510.5,1406.8 L508.9,1406.8 Z" fill="#00BFC4" stroke="#333333" stroke-width="2" stroke-linejoin="round"/>
<path d="M633.3,1239.7 L633.3,1239.7 C633.2,1246.1 633.4,1268.9 633.0,1278.0 C632.6,1287.1 631.9,1287.6 630.9,1294.4 C629.9,1301.2 628.2,1311.3 626.8,1318.9 C625.4,1326.5 623.2,1333.4 622.7,1340.2 C622.2,1347.0 624.6,1353.0 623.5,1359.8 C622.4,1366.6 617.8,1375.5 616.2,1381.0 C614.6,1386.5 613.4,1388.7 613.7,1392.5 C614.0,1396.3 617.1,1402.0 617.8,1403.9 L633.3,1403.9 Z" fill="#F8766D" stroke="#333333" stroke-width="2" stroke-linejoin="round"/>
<path d="M633.3,1276.4 L635.0,1276.4 C634.9,1282.1 634.0,1301.5 634.1,1310.8 C634.2,1320.1 634.7,1325.7 635.8,1332.0 C636.9,1338.3 637.4,1342.1 640.7,1348.4 C644.0,1354.7 650.2,1364.7 655.4,1369.6 C660.6,1374.5 667.6,1375.3 671.7,1377.8 C675.8,1380.2 679.9,1382.1 679.9,1384.3 C679.9,1386.5 676.6,1388.7 671.7,1390.9 C666.8,1393.1 654.0,1396.3 650.5,1397.4 L633.3,1397.4 Z" fill="#00BFC4" stroke="#333333" stroke-width="2" stroke-linejoin="round"/>
<path d="M757.5,1205.3 L755.9,1205.3 C755.5,1212.0 754.0,1233.3 753.5,1245.4 C753.0,1257.5 752.6,1267.1 752.6,1278.0 C752.6,1288.9 753.8,1299.9 753.5,1310.8 C753.2,1321.7 752.2,1334.0 751.0,1343.5 C749.8,1353.0 747.2,1361.2 746.1,1368.0 C745.0,1374.8 744.1,1378.2 744.5,1384.3 C744.9,1390.4 747.8,1401.3 748.5,1404.7 L757.5,1404.7 Z" fill="#F8766D" stroke="#333333" stroke-width="2" stroke-linejoin="round"/>
<path d="M757.5,1220.0 L759.2,1220.0 C759.2,1231.0 758.9,1269.7 759.2,1286.2 C759.5,1302.7 760.8,1310.0 760.8,1319.0 C760.8,1328.0 758.2,1335.0 759.2,1340.2 C760.2,1345.4 764.2,1346.5 766.5,1350.0 C768.8,1353.5 769.8,1357.6 773.1,1361.4 C776.4,1365.2 781.9,1369.6 786.1,1372.9 C790.3,1376.2 798.4,1378.3 798.4,1381.0 C798.4,1383.7 791.4,1386.2 786.1,1389.2 C780.8,1392.2 771.0,1395.5 766.5,1399.0 C762.0,1402.5 760.4,1408.6 759.2,1410.5 L757.5,1410.5 Z" fill="#00BFC4" stroke="#333333" stroke-width="2" stroke-linejoin="round"/>
<path d="M882.9,1267.3 L882.9,1267.3 C882.5,1273.2 881.8,1292.2 880.2,1302.6 C878.6,1313.0 875.0,1322.5 873.4,1329.7 C871.8,1336.9 870.9,1340.1 870.7,1346.0 C870.5,1351.9 873.5,1358.7 872.1,1365.0 C870.8,1371.3 864.6,1379.0 862.6,1384.0 C860.6,1389.0 859.7,1391.7 859.9,1394.9 C860.1,1398.1 863.2,1401.7 863.9,1403.0 L882.9,1403.0 Z" fill="#F8766D" stroke="#333333" stroke-width="2" stroke-linejoin="round"/>
<path d="M882.9,1280.9 L884.3,1280.9 C884.2,1286.8 883.9,1307.2 883.9,1316.2 C883.9,1325.2 883.5,1329.8 884.3,1335.2 C885.0,1340.6 887.0,1344.6 888.4,1348.7 C889.8,1352.8 889.0,1355.5 892.4,1359.6 C895.8,1363.7 902.1,1368.9 908.7,1373.2 C915.3,1377.5 930.0,1382.2 931.8,1385.4 C933.6,1388.6 925.0,1390.1 919.6,1392.2 C914.2,1394.3 902.6,1397.1 899.2,1398.1 L882.9,1398.1 Z" fill="#00BFC4" stroke="#333333" stroke-width="2" stroke-linejoin="round"/>
<path d="M1007.0,1226.6 L1005.1,1226.6 C1004.4,1233.8 1001.7,1256.0 1001.0,1270.0 C1000.3,1284.0 1001.2,1299.4 1001.0,1310.7 C1000.8,1322.0 1001.1,1327.5 999.7,1337.9 C998.4,1348.3 993.8,1364.2 992.9,1373.2 C992.0,1382.2 993.5,1387.2 994.2,1392.2 C994.9,1397.2 996.5,1401.2 996.9,1403.0 L1007.0,1403.0 Z" fill="#F8766D" stroke="#333333" stroke-width="2" stroke-linejoin="round"/>
<path d="M1007.0,1234.7 L1007.8,1234.7 C1007.8,1244.2 1007.8,1276.8 1008.0,1291.7 C1008.2,1306.6 1009.0,1316.2 1009.2,1324.3 C1009.4,1332.4 1007.0,1334.7 1009.2,1340.6 C1011.5,1346.5 1019.1,1354.6 1022.7,1359.6 C1026.3,1364.6 1027.3,1366.6 1030.9,1370.4 C1034.5,1374.2 1043.5,1379.1 1044.4,1382.7 C1045.3,1386.3 1040.8,1388.8 1036.3,1392.2 C1031.8,1395.6 1020.5,1401.2 1017.3,1403.0 L1007.0,1403.0 Z" fill="#00BFC4" stroke="#333333" stroke-width="2" stroke-linejoin="round"/>
<line x1="1131.3" y1="1300.0" x2="1131.3" y2="1394.9" stroke="#333333" stroke-width="2"/>
<path d="M1131.3,1094.0 L1129.0,1094.0 C1128.8,1096.7 1127.8,1104.8 1127.5,1110.0 C1127.2,1115.2 1127.1,1120.0 1127.0,1125.0 C1126.9,1130.0 1127.2,1135.8 1127.0,1140.0 C1126.8,1144.2 1126.2,1146.7 1125.5,1150.0 C1124.8,1153.3 1123.8,1155.8 1123.0,1160.0 C1122.2,1164.2 1120.9,1170.8 1120.5,1175.0 C1120.1,1179.2 1120.4,1181.7 1120.6,1185.0 C1120.8,1188.3 1121.8,1189.3 1121.9,1195.0 C1122.0,1200.7 1121.1,1212.3 1121.0,1219.0 C1120.9,1225.7 1120.8,1228.2 1121.2,1235.0 C1121.6,1241.8 1122.6,1251.8 1123.5,1260.0 C1124.4,1268.2 1125.8,1277.1 1126.8,1284.4 C1127.8,1291.7 1128.6,1299.4 1129.2,1304.0 C1129.8,1308.6 1130.3,1310.8 1130.5,1312.2 L1131.3,1312.2 Z" fill="#F8766D" stroke="#333333" stroke-width="2" stroke-linejoin="round"/>
<path d="M1131.3,1098.0 L1132.0,1098.0 C1132.2,1101.7 1132.6,1113.0 1133.0,1120.0 C1133.4,1127.0 1133.9,1133.3 1134.5,1140.0 C1135.1,1146.7 1135.8,1153.3 1136.5,1160.0 C1137.2,1166.7 1138.0,1170.2 1139.0,1180.0 C1140.0,1189.8 1141.6,1209.8 1142.3,1219.0 C1143.0,1228.2 1143.1,1228.6 1143.1,1235.4 C1143.1,1242.2 1143.1,1251.7 1142.3,1259.9 C1141.5,1268.1 1139.7,1276.2 1138.2,1284.4 C1136.7,1292.6 1134.4,1304.0 1133.3,1308.9 C1132.2,1313.8 1131.8,1313.0 1131.5,1313.8 L1131.3,1313.8 Z" fill="#00BFC4" stroke="#333333" stroke-width="2" stroke-linejoin="round"/>
<rect x="61.5" y="1078.5" width="1144" height="347.5" fill="none" stroke="#333" stroke-width="1.3"/>
<text x="1236.9" y="1222.9" font-size="25.2" text-anchor="start" fill="#000" font-weight="bold" >Pathology</text>
<rect x="1237.7" y="1237.6" width="28.6" height="28.6" fill="#F8766D" stroke="#333" stroke-width="1.8"/>
<rect x="1237.7" y="1269.5" width="28.6" height="28.6" fill="#00BFC4" stroke="#333" stroke-width="1.8"/>
<text x="1278.3" y="1257.1" font-size="25.2" text-anchor="start" fill="#000" font-weight="bold" >Benign</text>
<text x="1278.3" y="1289.1" font-size="25.2" text-anchor="start" fill="#000" font-weight="bold" >Malignant</text>
</svg></body></html>
